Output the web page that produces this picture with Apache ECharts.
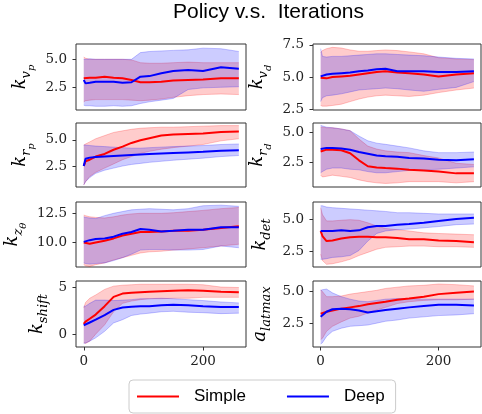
<!DOCTYPE html>
<html><head><meta charset="utf-8">
<script src="https://cdn.jsdelivr.net/npm/echarts@6/dist/echarts.min.js"></script>
<style>html,body{margin:0;padding:0;background:#fff;}#c{width:482px;height:414px;}</style>
</head><body><div id="c"></div>
<script>
// ---------------- data ----------------
const iterations = [0, 3, 10, 20, 35, 50, 65, 80, 95, 110, 130, 150, 175, 200, 230, 260];
const xTickValues = [0, 200];
const seriesNames = ['Simple', 'Deep'];

// k_vp
const kvpTicks = [2.5, 5.0];
const kvpSimpleMean = [3.3, 3.35, 3.35, 3.35, 3.45, 3.35, 3.3, 3.15, 2.95, 2.95, 3.0, 3.1, 3.15, 3.2, 3.3, 3.3];
const kvpSimpleLow  = [1.2, 1.3, 1.35, 1.4, 1.4, 1.4, 1.4, 1.35, 1.3, 1.35, 1.45, 1.6, 1.75, 1.85, 1.9, 1.85];
const kvpSimpleHigh = [5.2, 5.1, 5.0, 5.0, 5.0, 5.0, 5.0, 4.95, 4.7, 4.65, 4.65, 4.7, 4.75, 4.7, 4.7, 4.7];
const kvpDeepMean = [3.15, 2.85, 2.9, 3.0, 3.0, 3.0, 2.9, 2.95, 3.45, 3.5, 3.75, 3.95, 4.05, 3.95, 4.3, 4.15];
const kvpDeepLow  = [0.9, 0.85, 0.85, 0.8, 0.8, 0.85, 0.8, 0.85, 1.05, 1.2, 1.35, 1.5, 2.3, 2.45, 2.5, 2.55];
const kvpDeepHigh = [5.0, 5.0, 5.05, 5.0, 5.0, 5.0, 5.0, 5.0, 5.6, 5.7, 5.75, 5.8, 5.85, 6.0, 5.95, 5.7];

// k_rp
const krpTicks = [2.5, 5.0];
const krpSimpleMean = [2.5, 2.95, 3.1, 3.4, 3.65, 4.05, 4.35, 4.7, 4.95, 5.15, 5.4, 5.5, 5.55, 5.6, 5.75, 5.8];
const krpSimpleLow  = [0.7, 1.0, 1.5, 1.9, 2.3, 2.7, 3.1, 3.4, 3.7, 3.9, 4.1, 4.25, 4.4, 4.55, 4.9, 5.1];
const krpSimpleHigh = [4.5, 4.6, 4.8, 5.1, 5.4, 5.7, 5.85, 6.0, 6.1, 6.15, 6.2, 6.2, 6.25, 6.3, 6.35, 6.35];
const krpDeepMean = [2.5, 3.2, 3.3, 3.35, 3.4, 3.45, 3.5, 3.55, 3.6, 3.65, 3.7, 3.75, 3.8, 3.85, 3.95, 4.0];
const krpDeepLow  = [0.7, 1.0, 1.4, 1.8, 2.1, 2.3, 2.5, 2.65, 2.75, 2.85, 2.95, 3.05, 3.15, 3.25, 3.4, 3.5];
const krpDeepHigh = [4.5, 4.5, 4.45, 4.4, 4.35, 4.3, 4.25, 4.2, 4.2, 4.25, 4.3, 4.35, 4.4, 4.45, 4.55, 4.6];

// k_z0
const kz0Ticks = [10.0, 12.5];
const kz0SimpleMean = [10.0, 9.95, 9.9, 10.0, 10.15, 10.35, 10.6, 10.75, 10.9, 10.9, 10.95, 11.0, 11.0, 11.1, 11.25, 11.4];
const kz0SimpleLow  = [8.1, 8.0, 7.95, 8.1, 8.25, 8.5, 8.7, 8.9, 9.1, 9.2, 9.25, 9.35, 9.45, 9.55, 9.7, 9.85];
const kz0SimpleHigh = [12.35, 12.3, 12.2, 12.15, 12.1, 12.2, 12.35, 12.45, 12.5, 12.5, 12.5, 12.55, 12.65, 12.75, 12.9, 13.0];
const kz0DeepMean = [10.05, 10.1, 10.2, 10.3, 10.35, 10.5, 10.75, 10.9, 11.15, 11.1, 10.95, 11.0, 11.1, 11.1, 11.3, 11.3];
const kz0DeepLow  = [8.25, 8.2, 8.15, 8.2, 8.25, 8.45, 8.7, 9.0, 9.35, 9.4, 9.4, 9.35, 9.35, 9.4, 9.7, 9.55];
const kz0DeepHigh = [12.2, 12.15, 12.1, 12.05, 12.3, 12.5, 12.65, 12.8, 12.85, 12.9, 12.85, 12.8, 12.9, 13.15, 13.2, 13.1];

// k_shift
const kshiftTicks = [0, 5];
const kshiftSimpleMean = [1.1, 1.35, 1.65, 2.1, 3.0, 4.0, 4.35, 4.45, 4.5, 4.55, 4.6, 4.65, 4.7, 4.65, 4.55, 4.5];
const kshiftSimpleLow  = [-0.9, -1.0, -0.75, 0.0, 1.0, 2.4, 3.3, 3.55, 3.7, 3.8, 3.8, 3.85, 3.85, 3.95, 3.95, 3.95];
const kshiftSimpleHigh = [2.8, 3.4, 3.85, 4.2, 4.8, 5.15, 5.25, 5.3, 5.35, 5.35, 5.35, 5.35, 5.35, 5.3, 5.05, 5.0];
const kshiftDeepMean = [0.95, 1.0, 1.25, 1.55, 2.05, 2.6, 2.85, 2.95, 3.0, 3.0, 3.1, 3.15, 3.1, 3.0, 2.9, 2.9];
const kshiftDeepLow  = [-1.0, -0.95, -0.75, -0.4, 0.3, 1.2, 1.55, 2.0, 2.15, 2.25, 2.4, 2.45, 2.35, 2.3, 2.2, 2.25];
const kshiftDeepHigh = [3.0, 3.0, 3.3, 3.65, 3.65, 3.6, 3.65, 3.7, 3.8, 3.8, 3.85, 3.8, 3.7, 3.6, 3.45, 3.35];

// k_vd
const kvdTicks = [2.5, 5.0, 7.5];
const kvdSimpleMean = [4.95, 4.85, 4.9, 5.0, 5.05, 5.1, 5.2, 5.3, 5.4, 5.45, 5.35, 5.3, 5.2, 5.05, 5.2, 5.3];
const kvdSimpleLow  = [2.8, 2.75, 2.75, 2.8, 2.9, 3.1, 3.3, 3.45, 3.55, 3.6, 3.55, 3.5, 3.6, 3.8, 4.0, 4.15];
const kvdSimpleHigh = [6.9, 7.05, 7.2, 7.3, 7.25, 7.1, 7.0, 7.0, 7.05, 7.1, 7.05, 6.95, 6.8, 6.5, 6.4, 6.35];
const kvdDeepMean = [5.05, 5.1, 5.2, 5.25, 5.3, 5.35, 5.45, 5.5, 5.6, 5.65, 5.45, 5.45, 5.45, 5.4, 5.4, 5.45];
const kvdDeepLow  = [3.1, 3.4, 3.55, 3.6, 3.7, 3.85, 4.0, 4.05, 4.1, 4.15, 4.1, 4.0, 3.9, 4.05, 4.2, 4.65];
const kvdDeepHigh = [7.2, 6.6, 6.55, 6.6, 6.6, 6.65, 6.7, 6.75, 6.8, 6.8, 6.75, 6.7, 6.65, 6.55, 6.45, 6.4];

// k_rd
const krdTicks = [2.5, 5.0];
const krdSimpleMean = [3.4, 3.5, 3.55, 3.55, 3.5, 3.25, 2.65, 2.15, 2.05, 2.0, 1.95, 1.85, 1.8, 1.7, 1.55, 1.55];
const krdSimpleLow  = [1.4, 1.25, 1.3, 1.4, 1.3, 1.2, 1.0, 0.85, 0.75, 0.7, 0.75, 0.85, 0.85, 0.85, 0.75, 0.85];
const krdSimpleHigh = [5.45, 5.45, 5.4, 5.4, 5.3, 5.15, 4.45, 3.85, 3.6, 3.45, 3.35, 3.3, 3.05, 2.85, 2.4, 2.3];
const krdDeepMean = [3.6, 3.65, 3.7, 3.7, 3.65, 3.55, 3.35, 3.2, 3.05, 3.0, 2.95, 2.85, 2.8, 2.7, 2.65, 2.75];
const krdDeepLow  = [1.6, 1.7, 1.9, 2.0, 2.0, 1.9, 1.85, 1.7, 1.6, 1.6, 1.7, 1.8, 1.85, 1.9, 2.0, 2.1];
const krdDeepHigh = [5.6, 5.55, 5.45, 5.4, 5.3, 5.15, 4.7, 4.3, 4.1, 4.0, 3.85, 3.7, 3.45, 3.3, 3.3, 3.35];

// k_det
const kdetTicks = [2.5, 5.0];
const kdetSimpleMean = [4.1, 3.7, 3.3, 3.35, 3.5, 3.6, 3.65, 3.65, 3.6, 3.6, 3.55, 3.45, 3.45, 3.35, 3.3, 3.2];
const kdetSimpleLow  = [2.25, 1.75, 1.45, 1.5, 1.65, 1.85, 2.15, 2.4, 2.65, 2.8, 2.85, 2.9, 2.9, 2.85, 2.85, 2.8];
const kdetSimpleHigh = [5.95, 5.4, 4.9, 4.9, 4.95, 5.0, 4.95, 4.75, 4.5, 4.3, 4.2, 4.1, 3.95, 3.9, 3.85, 3.8];
const kdetDeepMean = [4.1, 4.05, 4.1, 4.1, 4.15, 4.1, 4.15, 4.4, 4.5, 4.5, 4.6, 4.65, 4.75, 4.9, 5.05, 5.15];
const kdetDeepLow  = [1.85, 1.85, 1.9, 2.0, 2.05, 2.15, 2.55, 3.3, 3.9, 4.1, 4.2, 4.25, 4.35, 4.45, 4.6, 4.65];
const kdetDeepHigh = [6.1, 6.1, 6.0, 5.95, 5.9, 5.85, 5.8, 5.75, 5.7, 5.65, 5.55, 5.55, 5.5, 5.45, 5.45, 5.45];

// a_latmax
const alatTicks = [2.5, 5.0];
const alatSimpleMean = [3.25, 3.35, 3.4, 3.5, 3.65, 3.75, 3.85, 4.0, 4.1, 4.2, 4.35, 4.45, 4.6, 4.8, 4.9, 5.0];
const alatSimpleLow  = [1.2, 1.3, 1.85, 2.25, 2.6, 2.9, 3.05, 3.3, 3.55, 3.75, 4.05, 4.2, 4.3, 4.35, 4.35, 4.4];
const alatSimpleHigh = [5.15, 5.0, 4.6, 4.6, 4.65, 4.8, 4.9, 5.0, 5.1, 5.25, 5.35, 5.45, 5.5, 5.6, 5.55, 5.45];
const alatDeepMean = [3.0, 3.15, 3.4, 3.6, 3.65, 3.6, 3.5, 3.35, 3.45, 3.55, 3.65, 3.75, 3.85, 3.95, 3.95, 3.9];
const alatDeepLow  = [0.85, 0.95, 1.45, 1.85, 2.1, 2.25, 2.3, 2.35, 2.5, 2.65, 2.75, 2.9, 3.0, 3.1, 3.15, 3.25];
const alatDeepHigh = [5.1, 5.15, 5.2, 4.9, 4.6, 4.4, 4.25, 4.2, 4.3, 4.4, 4.45, 4.45, 4.4, 4.4, 4.4, 4.4];

// ---------------- panels ----------------
const panels = [
  {name: '{m|k}{s|v}{ss|p}', ticks: kvpTicks, min: 0.47, max: 6.37, dec: 1,
   simple: [kvpSimpleMean, kvpSimpleLow, kvpSimpleHigh], deep: [kvpDeepMean, kvpDeepLow, kvpDeepHigh]},
  {name: '{m|k}{s|r}{ss|p}', ticks: krpTicks, min: 0.5, max: 6.6, dec: 1,
   simple: [krpSimpleMean, krpSimpleLow, krpSimpleHigh], deep: [krpDeepMean, krpDeepLow, krpDeepHigh]},
  {name: '{m|k}{s|z}{ss|θ}', ticks: kz0Ticks, min: 7.9, max: 13.47, dec: 1,
   simple: [kz0SimpleMean, kz0SimpleLow, kz0SimpleHigh], deep: [kz0DeepMean, kz0DeepLow, kz0DeepHigh]},
  {name: '{m|k}{s|shift}', ticks: kshiftTicks, min: -1.38, max: 5.7, dec: 0,
   simple: [kshiftSimpleMean, kshiftSimpleLow, kshiftSimpleHigh], deep: [kshiftDeepMean, kshiftDeepLow, kshiftDeepHigh]},
  {name: '{m|k}{s|v}{ss|d}', ticks: kvdTicks, min: 2.45, max: 7.56, dec: 1,
   simple: [kvdSimpleMean, kvdSimpleLow, kvdSimpleHigh], deep: [kvdDeepMean, kvdDeepLow, kvdDeepHigh]},
  {name: '{m|k}{s|r}{ss|d}', ticks: krdTicks, min: 0.4, max: 5.8, dec: 1,
   simple: [krdSimpleMean, krdSimpleLow, krdSimpleHigh], deep: [krdDeepMean, krdDeepLow, krdDeepHigh]},
  {name: '{m|k}{s|det}', ticks: kdetTicks, min: 1.24, max: 6.4, dec: 1,
   simple: [kdetSimpleMean, kdetSimpleLow, kdetSimpleHigh], deep: [kdetDeepMean, kdetDeepLow, kdetDeepHigh]},
  {name: '{m|a}{s|latmax}', ticks: alatTicks, min: 0.61, max: 5.84, dec: 1,
   simple: [alatSimpleMean, alatSimpleLow, alatSimpleHigh], deep: [alatDeepMean, alatDeepLow, alatDeepHigh]}
];

// layout (styles only)
const colLeft = [76, 313];
const colWidth = [170, 168];
const rowTop = [44, 123, 202, 281];
const rowHeight = [66, 64, 65, 66];
const nameGaps = [40, 40, 48, 26, 40, 40, 40, 40];   // axis line -> right edge of y label
const colors = {Simple: '#ff0000', Deep: '#0000ff'};

const nameRich = {
  m:  {fontFamily: 'DejaVu Serif', fontStyle: 'italic', fontSize: 18, fill: '#000', verticalAlign: 'top', padding: [0, 0, 0, 0]},
  s:  {fontFamily: 'DejaVu Serif', fontStyle: 'italic', fontSize: 13, fill: '#000', verticalAlign: 'top', padding: [9, 0, 0, 0]},
  ss: {fontFamily: 'DejaVu Serif', fontStyle: 'italic', fontSize: 10, fill: '#000', verticalAlign: 'top', padding: [15, 0, 0, 0]}
};
const tickFont = {fontFamily: 'DejaVu Serif', fontSize: 13.5, color: '#222'};

// band renderer: polygon between low (dim 1) and high (dim 2), drawn once per series
function bandRenderer(color) {
  return function (params, api) {
    if (params.dataIndexInside !== 0) return null;
    const n = params.dataInsideLength;
    const upper = [], lower = [];
    for (let k = 0; k < n; k++) {
      const x = api.value(0, k);
      lower.push(api.coord([x, api.value(1, k)]));
      upper.push(api.coord([x, api.value(2, k)]));
    }
    const poly = lower.concat(upper.slice().reverse());
    return {type: 'group', children: [
      {type: 'polygon', shape: {points: poly}, style: {fill: color, opacity: 0.2}},
      {type: 'polyline', shape: {points: upper}, style: {stroke: color, fill: null, lineWidth: 1, opacity: 0.22}},
      {type: 'polyline', shape: {points: lower}, style: {stroke: color, fill: null, lineWidth: 1, opacity: 0.22}}
    ]};
  };
}

const grids = [], xAxes = [], yAxes = [], series = [], graphics = [];
panels.forEach((p, i) => {
  const col = i < 4 ? 0 : 1;
  const row = i % 4;
  const isBottom = row === 3;
  grids.push({left: colLeft[col], top: rowTop[row], width: colWidth[col], height: rowHeight[row],
    show: true, borderColor: '#333', borderWidth: 1, backgroundColor: 'transparent'});
  xAxes.push({gridIndex: i, type: 'value', min: -13, max: 272, position: 'bottom',
    splitLine: {show: false}, axisLine: {show: false, onZero: false},
    axisTick: {show: isBottom, customValues: xTickValues, length: 3.5, lineStyle: {color: '#333'}},
    axisLabel: Object.assign({show: isBottom, customValues: xTickValues, margin: 7}, tickFont)});
  yAxes.push({gridIndex: i, type: 'value', min: p.min, max: p.max, position: 'left',
    splitLine: {show: false}, axisLine: {show: false, onZero: false},
    axisTick: {show: true, customValues: p.ticks, length: 3.5, lineStyle: {color: '#333'}},
    axisLabel: Object.assign({customValues: p.ticks, margin: 9, formatter: v => Number(v).toFixed(p.dec)}, tickFont)});
  // y-axis title as rotated rich text
  graphics.push({type: 'text', x: colLeft[col] - nameGaps[i], y: rowTop[row] + rowHeight[row] / 2,
    rotation: Math.PI / 2, silent: true,
    style: {text: p.name, rich: nameRich, align: 'center', verticalAlign: 'bottom',
      fontFamily: 'DejaVu Serif', fontStyle: 'italic', fontSize: 18, fill: '#000'}});
  [['Simple', p.simple], ['Deep', p.deep]].forEach(([nm, arr]) => {
    series.push({type: 'custom', name: nm + ' band', xAxisIndex: i, yAxisIndex: i,
      data: iterations.map((x, k) => [x, arr[1][k], arr[2][k]]),
      encode: {x: 0, y: [1, 2]}, renderItem: bandRenderer(colors[nm]), silent: true, z: 1});
  });
  [['Simple', p.simple], ['Deep', p.deep]].forEach(([nm, arr], j) => {
    series.push({type: 'line', name: nm, xAxisIndex: i, yAxisIndex: i,
      data: iterations.map((x, k) => [x, arr[0][k]]),
      symbol: 'none', z: 3 + j, lineStyle: {color: colors[nm], width: 2}, itemStyle: {color: colors[nm]}});
  });
});

const chart = echarts.init(document.getElementById('c'), null, {renderer: 'canvas'});
chart.setOption({
  animation: false,
  backgroundColor: '#fff',
  title: {text: 'Policy v.s.  Iterations', left: 173, top: 2, padding: 0,
    textStyle: {fontFamily: 'Liberation Sans', fontSize: 21, fontWeight: 'normal', color: '#000'}},
  legend: {data: seriesNames.map(n => ({name: n, icon: 'rect'})), left: 129, top: 380, orient: 'horizontal',
    padding: [8, 11, 8, 8], itemGap: 41, itemWidth: 42, itemHeight: 2,
    borderColor: '#cccccc', borderWidth: 1, borderRadius: 4,
    textStyle: {fontFamily: 'Liberation Sans', fontSize: 17, color: '#000', padding: [0, 0, 0, 10]}},
  graphic: graphics,
  grid: grids, xAxis: xAxes, yAxis: yAxes, series: series
});
</script></body></html>
